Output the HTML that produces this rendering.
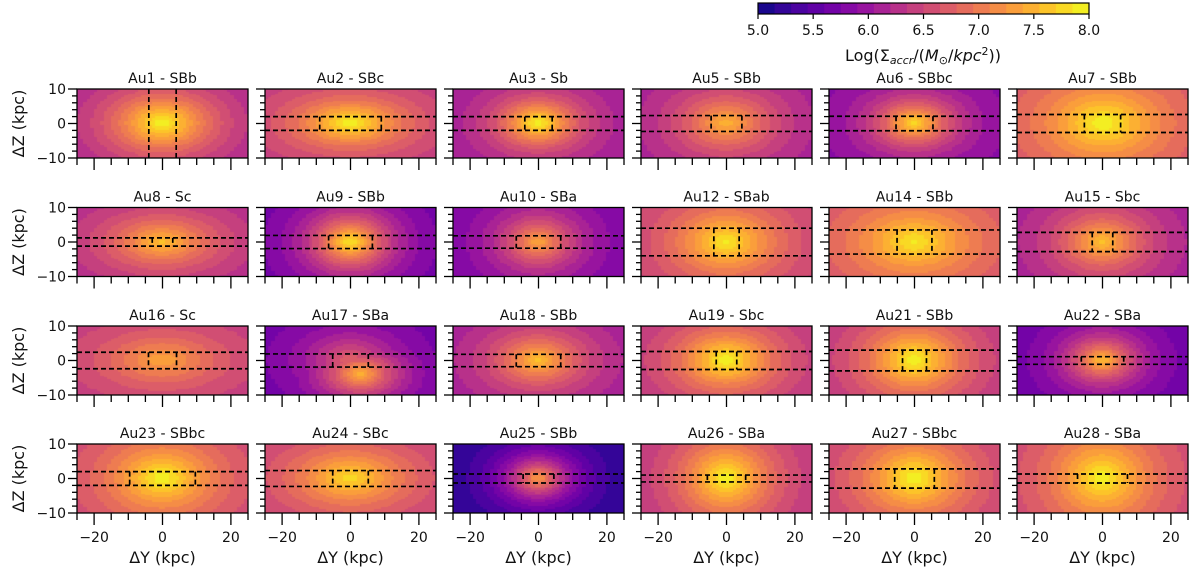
<!DOCTYPE html>
<html><head><meta charset="utf-8">
<style>
html,body{margin:0;padding:0;background:#fff;}
#wrap{position:relative;width:1200px;height:572px;overflow:hidden;font-family:"Liberation Sans","DejaVu Sans",sans-serif;}
canvas{position:absolute;}
svg{position:absolute;left:0;top:0;}
text{font-family:"DejaVu Sans","Liberation Sans",sans-serif;fill:#111;}
</style></head>
<body>
<div id="wrap">
<svg id="svg" width="1200" height="572"></svg>
</div>
<script>
const names=["Au1 - SBb","Au2 - SBc","Au3 - Sb","Au5 - SBb","Au6 - SBbc","Au7 - SBb",
"Au8 - Sc","Au9 - SBb","Au10 - SBa","Au12 - SBab","Au14 - SBb","Au15 - Sbc",
"Au16 - Sc","Au17 - SBa","Au18 - SBb","Au19 - Sbc","Au21 - SBb","Au22 - SBa",
"Au23 - SBbc","Au24 - SBc","Au25 - SBb","Au26 - SBa","Au27 - SBbc","Au28 - SBa"];
const peakVal=[8,8,8,7.5,7.8,8, 7.6,7.9,7.4,7.9,7.9,7.6, 7.4,7.5,7.6,8,8,7.6, 8,7.8,7.3,8,8,8];
const edgeVal=[6.0,6.3,6.0,6.0,5.8,6.5, 6.1,5.6,5.7,6.3,6.5,6.0, 6.3,5.6,6.0,6.2,6.2,5.6, 6.4,6.3,5.1,6.2,6.3,6.4];
const scaleY=[14,14,10,13,10,16, 15,10,10,14,16,12, 16,10,12,13,13,9, 14,16,9,12,14,13];
const scaleZ=[8,6,6,8,6,10, 7,7,7,9,9,8, 7,6,7,8,9,6, 9,8,6,10,10,11];
const centerY=[0,0,0,0,0,0.4, 0,0,0,0,0,0, 0,3,0,0,0,0, 0,0,0,0,0,0];
const centerZ=[0,0,0,0,0,0, 0,0,0,0,0,0, 0,-4,0,0,0,0, 0,0,0,0,0,0];
const boxW=[4,9,4,4.5,5.4,5.3, 3,6.4,6.5,3.7,5.1,3, 4.1,5.2,6.5,3,3.5,6.2, 9.6,5.2,4.5,5.6,5.8,7.3];
const boxH=[0,2,2,2.3,2.1,2.6, 1.2,1.9,1.8,4,3.5,2.8, 2.4,1.9,1.8,2.6,3,1.1, 2,2.3,1.3,1,2.8,1.3];
const xTicks=[-20,0,20];
const yTicks=[-10,0,10];
const cbTicks=[5.0,5.5,6.0,6.5,7.0,7.5,8.0];

const plasma=["#0d0887","#41049d","#6a00a8","#8f0da4","#b12a90","#cc4778","#e16462","#f2844b","#fca636","#fcce25","#f0f921"];
function hex(c){return [parseInt(c.slice(1,3),16),parseInt(c.slice(3,5),16),parseInt(c.slice(5,7),16)];}
function cmap(t){t=Math.max(0,Math.min(1,t));const f=t*10,i=Math.min(9,Math.floor(f)),u=f-i;const a=hex(plasma[i]),b=hex(plasma[i+1]);
return "rgb("+a.map((v,k)=>Math.round(v+(b[k]-v)*u)).join(",")+")";}
function qcol(v){let s=Math.floor((v-5)/0.15);s=Math.max(0,Math.min(19,s));return cmap((s+0.5)/20);}

const svg=document.getElementById('svg'),wrap=document.getElementById('wrap');
const NS="http://www.w3.org/2000/svg";
function mk(tag,attrs,parent){const e=document.createElementNS(NS,tag);for(const k in attrs)e.setAttribute(k,attrs[k]);(parent||svg).appendChild(e);return e;}

const PW=171,PH=69,colX=[77,265,453,641,829,1017],rowY=[89,207.5,326,444];
for(let p=0;p<24;p++){
  const r=Math.floor(p/6),c=p%6,x0=colX[c],y0=rowY[r];
  const sx=v=>x0+(v+25)/50*PW, sy=v=>y0+(10-v)/20*PH;
  const cv=document.createElement('canvas');cv.width=PW;cv.height=PH;
  cv.style.left=x0+'px';cv.style.top=y0+'px';
  
  
  wrap.insertBefore(cv,svg);
  const ctx=cv.getContext('2d');
  for(let yi=0;yi<50;yi++)for(let zi=0;zi<40;zi++){
    const yv=-25+yi+0.5,zv=10-zi*0.5-0.25;
    const rr=Math.sqrt(Math.pow((yv-centerY[p])/scaleY[p],2)+Math.pow((zv-centerZ[p])/scaleZ[p],2));
    let v=edgeVal[p]+(peakVal[p]-edgeVal[p])*Math.exp(-0.85*Math.pow(rr,1.25));
    if(p===13){const r2=Math.sqrt(Math.pow(yv/12,2)+Math.pow(zv/7,2));v=Math.max(v,5.6+1.2*Math.exp(-0.85*Math.pow(r2,1.25)));}
    ctx.fillStyle=qcol(v);
    ctx.fillRect(Math.floor(sx(yv-0.5)-x0),Math.floor(sy(zv+0.25)-y0),Math.ceil(PW/50)+1,Math.ceil(PH/40)+1);
  }
  const g=mk('g',{});
  const ds={stroke:'#000','stroke-width':1.7,'stroke-dasharray':'5,3',fill:'none'};
  if(boxH[p]>0){
    mk('line',Object.assign({x1:x0,x2:x0+PW,y1:sy(boxH[p]),y2:sy(boxH[p]),},ds),g);
    mk('line',Object.assign({x1:x0,x2:x0+PW,y1:sy(-boxH[p]),y2:sy(-boxH[p]),},ds),g);
    [-1,1].forEach(s=>mk('line',Object.assign({x1:sx(s*boxW[p]),x2:sx(s*boxW[p]),y1:sy(boxH[p]),y2:sy(-boxH[p]),},ds),g));
  } else {
    [-1,1].forEach(s=>mk('line',Object.assign({x1:sx(s*boxW[p]),x2:sx(s*boxW[p]),y1:y0,y2:y0+PH,},ds),g));
  }
  mk('rect',{x:x0,y:y0,width:PW,height:PH,fill:'none',stroke:'#000','stroke-width':1.3,},g);
  const t=mk('text',{x:x0+PW/2,y:y0-6,'text-anchor':'middle','font-size':14,},g);t.textContent=names[p];
  for(let v=-25;v<=25;v+=5){const maj=xTicks.includes(v);
    mk('line',{x1:sx(v),x2:sx(v),y1:y0+PH,y2:y0+PH+(maj?12:7),stroke:'#000','stroke-width':1.3},g);}
  if(r===3){xTicks.forEach(v=>{const tt=mk('text',{x:sx(v),y:y0+PH+29,'text-anchor':'middle','font-size':14,},g);tt.textContent=(v<0?'\u2212':'')+Math.abs(v);});
    const xl=mk('text',{x:x0+PW/2,y:y0+PH+50,'text-anchor':'middle','font-size':16,},g);xl.textContent='\u0394Y (kpc)';}
  for(let v=-10;v<=10;v+=2){const maj=yTicks.includes(v);
    mk('line',{x1:x0,x2:x0-(maj?9:5),y1:sy(v),y2:sy(v),stroke:'#000','stroke-width':1.3},g);}
  if(c===0){yTicks.forEach(v=>{const tt=mk('text',{x:x0-11,y:sy(v)+5,'text-anchor':'end','font-size':14,},g);tt.textContent=(v<0?'\u2212':'')+Math.abs(v);});
    const yl=mk('text',{x:0,y:0,transform:'translate(24,'+(y0+PH/2)+') rotate(-90)','text-anchor':'middle','font-size':16,},g);yl.textContent='\u0394Z (kpc)';}
}
const cb=mk('g',{});
const cbx0=758,cbx1=1089;
for(let i=0;i<20;i++){mk('rect',{x:cbx0+i*(cbx1-cbx0)/20,y:3,width:(cbx1-cbx0)/20+0.5,height:11,fill:cmap((i+0.5)/20),},cb);}
mk('rect',{x:cbx0,y:3,width:cbx1-cbx0,height:11,fill:'none',stroke:'#000','stroke-width':1.2},cb);
cbTicks.forEach(v=>{const X=cbx0+(v-5)/3*(cbx1-cbx0);
  mk('line',{x1:X,x2:X,y1:14,y2:19,stroke:'#000','stroke-width':1.2},cb);
  const tt=mk('text',{x:X,y:35,'text-anchor':'middle','font-size':14,},cb);tt.textContent=v.toFixed(1);});
const cl=mk('text',{x:923,y:61,'text-anchor':'middle','font-size':16,},cb);
cl.innerHTML='Log(\u03A3<tspan font-style="italic" font-size="11" dy="3">accr</tspan><tspan dy="-3">/(</tspan><tspan font-style="italic">M</tspan><tspan font-size="11" dy="3">\u2299</tspan><tspan dy="-3">/</tspan><tspan font-style="italic">kpc</tspan><tspan font-size="11" dy="-6">2</tspan><tspan dy="6">))</tspan>';
</script>
</body></html>
